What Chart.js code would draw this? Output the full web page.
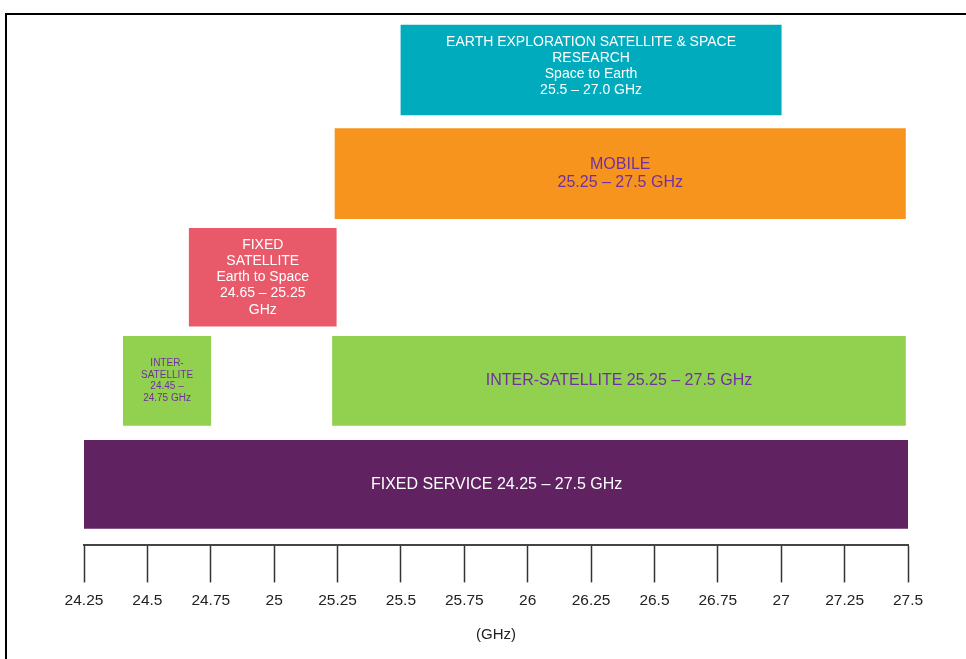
<!DOCTYPE html>
<html>
<head>
<meta charset="utf-8">
<script src="https://cdn.jsdelivr.net/npm/chart.js@4"></script>
<style>
  html, body { margin: 0; padding: 0; background: #fff; }
  #wrap { position: relative; width: 966px; height: 659px; overflow: hidden; }
  #frame { position: absolute; left: 5px; top: 13px; width: 1200px; height: 800px;
           border-top: 2px solid #000; border-left: 2px solid #000; }
  canvas { position: absolute; left: 0; top: 0; }
</style>
</head>
<body>
<div id="wrap">
  <div id="frame"></div>
  <canvas id="chartCanvas" width="966" height="659"></canvas>
</div>
<script>
// frequency bands in GHz, as drawn; rows counted from the bottom
const earthExploration = [[25.5, 27.0]];
const mobile = [[25.24, 27.49]];
const fixedSatellite = [[24.665, 25.245]];
const interSatellite = [[24.405, 24.75], [25.23, 27.49]];
const fixedService = [[24.245, 27.51]];

const rows = { earthExploration: 4, mobile: 3, fixedSatellite: 2, interSatellite: 1, fixedService: 0 };

const tickValues = [24.25, 24.5, 24.75, 25, 25.25, 25.5, 25.75, 26, 26.25, 26.5, 26.75, 27, 27.25, 27.5];
const tickLabels = ['24.25', '24.5', '24.75', '25', '25.25', '25.5', '25.75', '26', '26.25', '26.5', '26.75', '27', '27.25', '27.5'];

const barLabels = [
    ['EARTH EXPLORATION SATELLITE & SPACE', 'RESEARCH', 'Space to Earth', '25.5 – 27.0 GHz'],
    ['MOBILE', '25.25 – 27.5 GHz'],
    ['FIXED', 'SATELLITE', 'Earth to Space', '24.65 – 25.25', 'GHz'],
    [['INTER-', 'SATELLITE', '24.45 –', '24.75 GHz'], ['INTER-SATELLITE 25.25 – 27.5 GHz']],
    ['FIXED SERVICE 24.25 – 27.5 GHz']
];

function toPoints(bands, row) {
    return bands.map(b => ({ x: b, y: row }));
}

// writes the service names inside each bar
const barText = {
    id: 'barText',
    afterDatasetsDraw(chart) {
        const ctx = chart.ctx;
        chart.data.datasets.forEach((ds, di) => {
            const meta = chart.getDatasetMeta(di);
            meta.data.forEach((bar, i) => {
                const lines = ds.textLines[i];
                const size = ds.textSize[i];
                const lh = size * 1.16;
                const cx = (bar.x + bar.base) / 2;
                const cy = bar.y + (ds.textShift || 0);
                ctx.save();
                ctx.fillStyle = ds.textColor;
                ctx.font = size + 'px "Liberation Sans", Arial, sans-serif';
                ctx.textAlign = 'center';
                ctx.textBaseline = 'middle';
                const top = cy - (lines.length - 1) * lh / 2;
                lines.forEach((t, k) => ctx.fillText(t, cx, top + k * lh));
                ctx.restore();
            });
        });
    }
};

const ctx = document.getElementById('chartCanvas').getContext('2d');
new Chart(ctx, {
    type: 'bar',
    data: {
        datasets: [
            {
                data: toPoints(earthExploration, rows.earthExploration),
                backgroundColor: '#00abbd',
                barThickness: 90,
                textLines: [barLabels[0]], textSize: [14], textColor: '#ffffff', textShift: -4
            },
            {
                data: toPoints(mobile, rows.mobile),
                backgroundColor: '#f7941e',
                barThickness: 90,
                textLines: [barLabels[1]], textSize: [16], textColor: '#7030a0'
            },
            {
                data: toPoints(fixedSatellite, rows.fixedSatellite),
                backgroundColor: '#e8596a',
                barThickness: 98,
                textLines: [barLabels[2]], textSize: [14], textColor: '#ffffff'
            },
            {
                data: toPoints(interSatellite, rows.interSatellite),
                backgroundColor: '#92d050',
                barThickness: 89,
                textLines: barLabels[3], textSize: [10, 16], textColor: '#7030a0'
            },
            {
                data: toPoints(fixedService, rows.fixedService),
                backgroundColor: '#612262',
                barThickness: 88,
                textLines: [barLabels[4]], textSize: [16], textColor: '#ffffff'
            }
        ]
    },
    options: {
        responsive: false,
        animation: false,
        indexAxis: 'y',
        grouped: false,
        layout: { padding: { top: 14, bottom: 11, left: 84, right: 58 } },
        plugins: {
            legend: { display: false },
            tooltip: { enabled: false }
        },
        scales: {
            x: {
                type: 'linear',
                min: 24.25,
                max: 27.5,
                afterBuildTicks: axis => { axis.ticks = tickValues.map(v => ({ value: v })); },
                ticks: {
                    callback: (v) => {
                        const i = tickValues.findIndex(t => Math.abs(t - v) < 1e-6);
                        return i >= 0 ? tickLabels[i] : '';
                    },
                    color: '#222',
                    font: { family: '"Liberation Sans", Arial, sans-serif', size: 15.5 },
                    padding: 9,
                    maxRotation: 0,
                    autoSkip: false
                },
                grid: {
                    drawOnChartArea: false,
                    drawTicks: true,
                    tickLength: 37,
                    tickWidth: 1.5,
                    tickColor: '#333'
                },
                border: { display: true, color: '#444', width: 2 },
                title: {
                    display: true,
                    text: '(GHz)',
                    color: '#222',
                    font: { family: '"Liberation Sans", Arial, sans-serif', size: 15 },
                    padding: { top: 7, bottom: 4 }
                }
            },
            y: {
                type: 'linear',
                display: false,
                offset: false,
                grid: { offset: false },
                bounds: 'data',
                min: -0.589,
                max: 4.541
            }
        }
    },
    plugins: [barText]
});
</script>
</body>
</html>
